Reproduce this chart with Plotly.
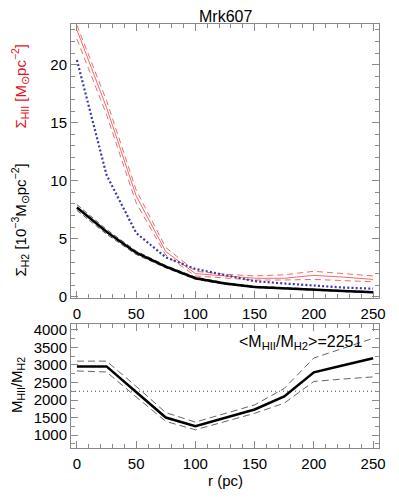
import plotly.graph_objects as go

# radius (pc)
r = [0, 25, 50, 75, 100, 125, 150, 175, 200, 225, 250]

# H2 surface density (10^-3 Msun/pc^2) with error band
h2 = [7.7, 5.6, 3.8, 2.6, 1.6, 1.15, 0.85, 0.72, 0.6, 0.5, 0.4]
h2_hi = [7.95, 5.8, 3.95, 2.7, 1.7, 1.22, 0.92, 0.78, 0.65, 0.55, 0.45]
h2_lo = [7.45, 5.4, 3.65, 2.5, 1.52, 1.08, 0.8, 0.67, 0.55, 0.45, 0.36]

# blue dotted profile
blue = [20.4, 10.5, 5.5, 3.4, 2.4, 1.9, 1.35, 1.15, 0.95, 0.8, 0.7]

# HII surface density (Msun/pc^2) with error band
hii = [23.0, 16.3, 8.7, 3.9, 2.0, 1.8, 1.6, 1.6, 1.85, 1.7, 1.5]
hii_hi = [23.4, 16.9, 9.2, 4.25, 2.2, 1.95, 1.8, 1.9, 2.2, 2.0, 1.8]
hii_lo = [22.2, 15.7, 8.1, 3.6, 1.8, 1.65, 1.45, 1.45, 1.5, 1.4, 1.3]

# mass ratio
ratio = [2960, 2960, 2230, 1500, 1250, 1500, 1730, 2100, 2790, 2990, 3190]
ratio_hi = [3110, 3110, 2390, 1640, 1370, 1620, 1860, 2330, 3200, 3480, 3760]
ratio_lo = [2830, 2800, 2090, 1390, 1150, 1390, 1620, 1910, 2530, 2600, 2660]
ratio_mean = 2251

FONT = "Liberation Sans, Arial, sans-serif"
RED = "#f06a6a"
AXIS = "#8a8a8a"

# the page body has an 8px margin, so the figure is drawn 8px smaller and shifted
OFF = 8
W, H = 399 - OFF, 498 - OFF
L, T, R, B = 71 - OFF, 24 - OFF, 20, 50
PW, PH = W - L - R, H - T - B

fig = go.Figure()


def line(x, y, color, width, dash, xa="x", ya="y"):
    fig.add_trace(go.Scatter(x=x, y=y, mode="lines", xaxis=xa, yaxis=ya,
                             line=dict(color=color, width=width, dash=dash),
                             showlegend=False, hoverinfo="skip"))


# top panel
line(r, hii_hi, RED, 1, "6px,4px")
line(r, hii_lo, RED, 1, "6px,4px")
line(r, hii, RED, 1, "solid")
line(r, blue, "#3a3aa8", 2.2, "2px,2.2px")
line(r, h2_hi, "#555555", 1, "5px,3px")
line(r, h2_lo, "#555555", 1, "5px,3px")
line(r, h2, "black", 2.5, "solid")

# bottom panel
line([-5, 255], [ratio_mean, ratio_mean], "#444444", 1, "1px,3px", "x2", "y2")
line(r, ratio_hi, "#666666", 1, "7px,4px", "x2", "y2")
line(r, ratio_lo, "#666666", 1, "7px,4px", "x2", "y2")
line(r, ratio, "black", 2.5, "solid", "x2", "y2")

ax = dict(showline=True, linecolor=AXIS, linewidth=1, mirror="allticks",
          ticks="inside", ticklen=7, tickcolor=AXIS, showgrid=False,
          zeroline=False, tickfont=dict(family=FONT, size=15, color="black"))

# panel edges in page pixels: top panel 24-298, bottom panel 324-448
top_dom = [(448 - 298) / 424, 1]
bot_dom = [0, (448 - 324) / 424]

fig.update_layout(
    width=W, height=H,
    margin=dict(l=L, r=R, t=T, b=B),
    paper_bgcolor="white", plot_bgcolor="white",
    font=dict(family=FONT, color="black"),
    xaxis=dict(ax, range=[-5, 255], dtick=50, anchor="y",
               ticklabelstandoff=2,
               minor=dict(dtick=10, ticks="inside", ticklen=4, tickcolor=AXIS)),
    yaxis=dict(ax, range=[-0.1, 23.5], dtick=5, domain=top_dom, anchor="x",
               minor=dict(dtick=1, ticks="inside", ticklen=4, tickcolor=AXIS)),
    xaxis2=dict(ax, range=[-5, 255], dtick=50, anchor="y2",
                ticklabelstandoff=2,
                minor=dict(dtick=10, ticks="inside", ticklen=4, tickcolor=AXIS)),
    yaxis2=dict(ax, range=[630, 4170], dtick=500, domain=bot_dom, anchor="x2",
                minor=dict(dtick=250, ticks="inside", ticklen=4, tickcolor=AXIS)),
)


def px(x, y):
    # page pixel -> paper coordinates
    return (x - 71) / PW, (448 - y) / PH


ann = [
    dict(text="Mrk607", x=225, y=16.5, size=16, color="black", angle=0),
    dict(text="Σ<sub>HII</sub> [M<sub>⊙</sub>pc<sup>−2</sup>]", x=19.5, y=86,
         size=15, color="#e8101a", angle=-90),
    dict(text="Σ<sub>H2</sub> [10<sup>−3</sup>M<sub>⊙</sub>pc<sup>−2</sup>]", x=19.5, y=220,
         size=15, color="black", angle=-90),
    dict(text="M<sub>HII</sub>/M<sub>H2</sub>", x=17, y=385,
         size=15, color="black", angle=-90),
    dict(text="r (pc)", x=225, y=481, size=15, color="black", angle=0),
]
for a in ann:
    ax_, ay_ = px(a["x"], a["y"])
    fig.add_annotation(text=a["text"], xref="paper", yref="paper", x=ax_, y=ay_,
                       xanchor="center", yanchor="middle", showarrow=False,
                       textangle=a["angle"],
                       font=dict(family=FONT, size=a["size"], color=a["color"]))

mx, my = px(364, 342)
fig.add_annotation(text="&lt;M<sub>HII</sub>/M<sub>H2</sub>&gt;=2251",
                   xref="paper", yref="paper", x=mx, y=my,
                   xanchor="right", yanchor="middle", showarrow=False,
                   font=dict(family=FONT, size=16, color="black"))

fig.write_html("out.html")
